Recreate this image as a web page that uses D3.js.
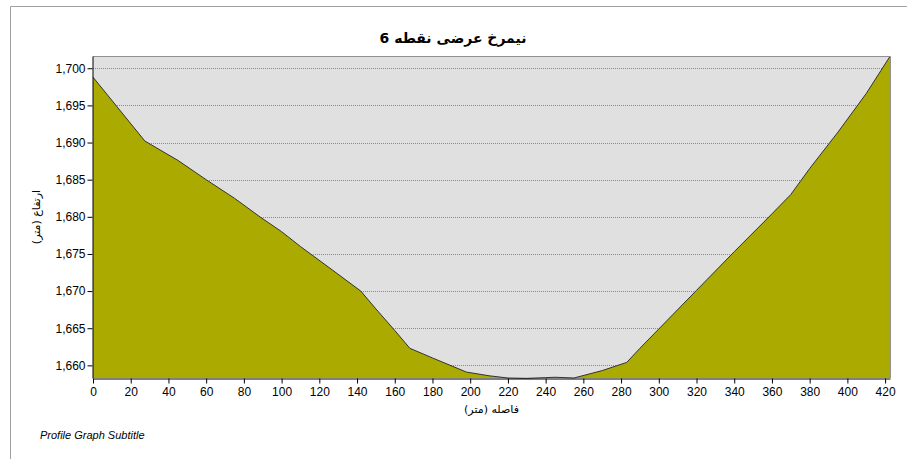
<!DOCTYPE html>
<html><head><meta charset="utf-8">
<script src="https://cdn.jsdelivr.net/npm/d3@7"></script>
<style>body{margin:0;background:#fff;}svg{display:block;font-family:"Liberation Sans",Arial,sans-serif;}</style>
</head><body>
<svg id="c" width="907" height="459"></svg>
<script>
const titleText = "نیمرخ عرضی نقطه 6";
const xTitle = "فاصله (متر)";
const yTitle = "ارتفاع (متر)";
const subtitle = "Profile Graph Subtitle";
const distances = [0, 27.5, 45, 60, 75, 88.5, 100, 110, 125, 142, 150, 160, 168, 180, 198, 210, 220, 230, 240, 245, 255, 270, 283, 290, 300, 320, 340, 360, 370, 380, 395, 410, 422.6];
const elevations = [1698.8, 1690.2, 1687.6, 1685.0, 1682.5, 1680.0, 1678.0, 1676.0, 1673.2, 1670.0, 1667.6, 1664.7, 1662.3, 1661.0, 1659.1, 1658.6, 1658.3, 1658.25, 1658.35, 1658.4, 1658.3, 1659.3, 1660.4, 1662.3, 1664.9, 1670.1, 1675.3, 1680.4, 1683.0, 1686.5, 1691.4, 1696.6, 1701.6];
const xTicks = d3.range(0, 421, 20);
const yTicks = [1660, 1665, 1670, 1675, 1680, 1685, 1690, 1695, 1700];

const svg = d3.select("#c");
const L = 93, R = 890, T = 56, B = 378;
const x = d3.scaleLinear().domain([0, 422.6]).range([L, R]);
const y = d3.scaleLinear().domain([1658.3, 1701.65]).range([B, T]);

// outer frame
svg.append("path").attr("d", `M10.5,459 L10.5,6.5 L907,6.5`).attr("fill", "none").attr("stroke", "#a0a0a0");

// plot background
svg.append("rect").attr("x", L).attr("y", T).attr("width", R - L).attr("height", B - T).attr("fill", "#e0e0e0");

// grid
svg.append("g").selectAll("line").data(yTicks).join("line")
  .attr("x1", L).attr("x2", R).attr("y1", d => Math.round(y(d)) + 0.5).attr("y2", d => Math.round(y(d)) + 0.5)
  .attr("stroke", "#8a8a8a").attr("stroke-dasharray", "1,1").attr("stroke-width", 1);

const pts = distances.map((d, i) => [d, elevations[i]]);
svg.append("path").datum(pts)
  .attr("d", d3.area().x(d => x(d[0])).y0(B).y1(d => y(d[1])))
  .attr("fill", "#aaaa00");
svg.append("path").datum(pts)
  .attr("d", d3.line().x(d => x(d[0])).y(d => y(d[1])))
  .attr("fill", "none").attr("stroke", "#333").attr("stroke-width", 1);

// plot border top/right
svg.append("path").attr("d", `M${L},${T + 0.5} L${R + 0.5},${T + 0.5} L${R + 0.5},${B}`).attr("fill", "none").attr("stroke", "#909090");

// axes
const fmt = d3.format(",");
const gx = svg.append("g").attr("transform", `translate(0,${B + 0.5})`)
  .call(d3.axisBottom(x).tickValues(xTicks).tickSize(5).tickSizeOuter(0).tickPadding(4));
const gy = svg.append("g").attr("transform", `translate(${L - 0.5},0)`)
  .call(d3.axisLeft(y).tickValues(yTicks).tickFormat(fmt).tickSize(5).tickSizeOuter(0).tickPadding(2));
[gx, gy].forEach(g => {
  g.selectAll("path.domain").attr("stroke", "#000");
  g.selectAll("line").attr("stroke", "#000");
  g.selectAll("text").attr("font-size", 12).attr("fill", "#000").attr("font-family", "Liberation Sans, Arial, sans-serif");
});

// titles
svg.append("text").attr("x", 453).attr("y", 43).attr("text-anchor", "middle")
  .attr("font-size", 14).attr("font-weight", "bold").attr("font-family", "DejaVu Sans, Arial, sans-serif").text(titleText);
svg.append("text").attr("x", (L + R) / 2).attr("y", 413).attr("text-anchor", "middle")
  .attr("font-size", 11).attr("font-family", "DejaVu Sans, Arial, sans-serif").text(xTitle);
svg.append("text").attr("transform", `translate(40,${(T + B) / 2}) rotate(-90)`).attr("text-anchor", "middle")
  .attr("font-size", 11).attr("font-family", "DejaVu Sans, Arial, sans-serif").text(yTitle);
svg.append("text").attr("x", 40).attr("y", 439).attr("font-size", 11).attr("font-style", "italic")
  .attr("font-family", "Liberation Sans, Arial, sans-serif").text(subtitle);
</script>
</body></html>
